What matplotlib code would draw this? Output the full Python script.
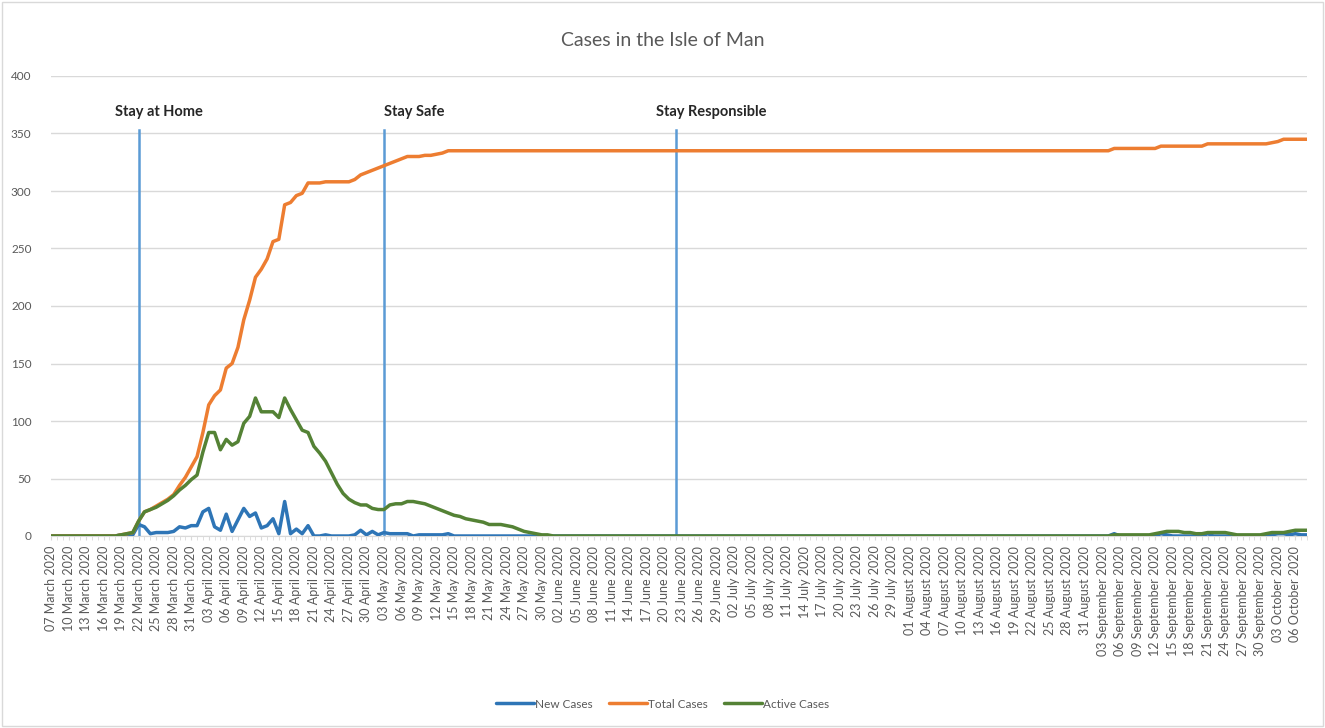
import matplotlib
matplotlib.use("Agg")
import matplotlib.pyplot as plt
import matplotlib.patches as mpatches
import numpy as np
import pandas as pd

plt.rcParams['font.family'] = ['Lato', 'DejaVu Sans']

# ---- data (daily, 07 March 2020 .. 08 October 2020) ----
dates = pd.date_range('2020-03-07', '2020-10-08', freq='D')

new_cases = [
    0, 0, 0, 0, 0, 0, 0, 0, 0, 0,          # 0-9
    0, 0, 1, 1, 1, 10, 8, 2, 3, 3,         # 10-19
    3, 4, 8, 7, 9, 9, 21, 24, 8, 5,        # 20-29
    19, 4, 14, 24, 17, 20, 7, 9, 15, 2,    # 30-39
    30, 2, 6, 2, 9, 0, 0, 1, 0, 0,         # 40-49
    0, 0, 1, 5, 1, 4, 1, 3, 2, 2,          # 50-59
    2, 2, 0, 1, 1, 1, 1, 1, 2, 0,          # 60-69
    0, 0, 0, 0, 0, 0, 0, 0, 0, 0,          # 70-79
    0, 0, 0, 0, 0, 0, 0, 0, 0, 0,          # 80-89
    0, 0, 0, 0, 0, 0, 0, 0, 0, 0,          # 90-99
    0, 0, 0, 0, 0, 0, 0, 0, 0, 0,          # 100-109
    0, 0, 0, 0, 0, 0, 0, 0, 0, 0,          # 110-119
    0, 0, 0, 0, 0, 0, 0, 0, 0, 0,          # 120-129
    0, 0, 0, 0, 0, 0, 0, 0, 0, 0,          # 130-139
    0, 0, 0, 0, 0, 0, 0, 0, 0, 0,          # 140-149
    0, 0, 0, 0, 0, 0, 0, 0, 0, 0,          # 150-159
    0, 0, 0, 0, 0, 0, 0, 0, 0, 0,          # 160-169
    0, 0, 0, 0, 0, 0, 0, 0, 0, 0,          # 170-179
    0, 0, 2, 0, 0, 0, 0, 0, 0, 0,          # 180-189
    2, 1, 0, 0, 0, 0, 0, 0, 2, 0,          # 190-199
    0, 0, 0, 0, 0, 0, 0, 0, 0, 1,          # 200-209
    2, 2, 1, 2, 1, 1,                      # 210-215
]

total_cases = [
    0, 0, 0, 0, 0, 0, 0, 0, 0, 0,                      # 0-9
    0, 0, 1, 2, 3, 13, 21, 23, 26, 29,                 # 10-19
    32, 36, 44, 51, 60, 69, 90, 114, 122, 127,         # 20-29
    146, 150, 164, 188, 205, 225, 232, 241, 256, 258,  # 30-39
    288, 290, 296, 298, 307, 307, 307, 308, 308, 308,  # 40-49
    308, 308, 310, 314, 316, 318, 320, 322, 324, 326,  # 50-59
    328, 330, 330, 330, 331, 331, 332, 333, 335, 335,  # 60-69
    335, 335, 335, 335, 335, 335, 335, 335, 335, 335,  # 70-79
    335, 335, 335, 335, 335, 335, 335, 335, 335, 335,  # 80-89
    335, 335, 335, 335, 335, 335, 335, 335, 335, 335,  # 90-99
    335, 335, 335, 335, 335, 335, 335, 335, 335, 335,  # 100-109
    335, 335, 335, 335, 335, 335, 335, 335, 335, 335,  # 110-119
    335, 335, 335, 335, 335, 335, 335, 335, 335, 335,  # 120-129
    335, 335, 335, 335, 335, 335, 335, 335, 335, 335,  # 130-139
    335, 335, 335, 335, 335, 335, 335, 335, 335, 335,  # 140-149
    335, 335, 335, 335, 335, 335, 335, 335, 335, 335,  # 150-159
    335, 335, 335, 335, 335, 335, 335, 335, 335, 335,  # 160-169
    335, 335, 335, 335, 335, 335, 335, 335, 335, 335,  # 170-179
    335, 335, 337, 337, 337, 337, 337, 337, 337, 337,  # 180-189
    339, 339, 339, 339, 339, 339, 339, 339, 341, 341,  # 190-199
    341, 341, 341, 341, 341, 341, 341, 341, 341, 342,  # 200-209
    343, 345, 345, 345, 345, 345,                      # 210-215
]

active_cases = [
    0, 0, 0, 0, 0, 0, 0, 0, 0, 0,                # 0-9
    0, 0, 1, 2, 3, 13, 21, 23, 25, 28,           # 10-19
    31, 35, 40, 44, 49, 53, 73, 90, 90, 75,      # 20-29
    84, 79, 82, 98, 104, 120, 108, 108, 108, 103,  # 30-39
    120, 110, 101, 92, 90, 78, 72, 65, 55, 45,   # 40-49
    37, 32, 29, 27, 27, 24, 23, 23, 27, 28,      # 50-59
    28, 30, 30, 29, 28, 26, 24, 22, 20, 18,      # 60-69
    17, 15, 14, 13, 12, 10, 10, 10, 9, 8,        # 70-79
    6, 4, 3, 2, 1, 1, 0, 0, 0, 0,                # 80-89
    0, 0, 0, 0, 0, 0, 0, 0, 0, 0,                # 90-99
    0, 0, 0, 0, 0, 0, 0, 0, 0, 0,                # 100-109
    0, 0, 0, 0, 0, 0, 0, 0, 0, 0,                # 110-119
    0, 0, 0, 0, 0, 0, 0, 0, 0, 0,                # 120-129
    0, 0, 0, 0, 0, 0, 0, 0, 0, 0,                # 130-139
    0, 0, 0, 0, 0, 0, 0, 0, 0, 0,                # 140-149
    0, 0, 0, 0, 0, 0, 0, 0, 0, 0,                # 150-159
    0, 0, 0, 0, 0, 0, 0, 0, 0, 0,                # 160-169
    0, 0, 0, 0, 0, 0, 0, 0, 0, 0,                # 170-179
    0, 0, 1, 1, 1, 1, 1, 1, 1, 2,                # 180-189
    3, 4, 4, 4, 3, 3, 2, 2, 3, 3,                # 190-199
    3, 3, 2, 1, 1, 1, 1, 1, 2, 3,                # 200-209
    3, 3, 4, 5, 5, 5,                            # 210-215
]

phase_labels = ['Stay at Home', 'Stay Safe', 'Stay Responsible']
phase_days = [15, 57, 107]          # index of date where each phase line sits

series_names = ['New Cases', 'Total Cases', 'Active Cases']
series_colors = ['#2E75B6', '#ED7D31', '#548235']

# ---- figure ----
W, H, DPI = 1325, 728, 100
fig = plt.figure(figsize=(W / DPI, H / DPI), dpi=DPI)
fig.patch.set_facecolor('white')

# faint chart border
fig.add_artist(mpatches.Rectangle((2 / W, 2 / H), (W - 4) / W, (H - 4) / H,
                                  transform=fig.transFigure, fill=False,
                                  edgecolor='#D9D9D9', lw=1))

left, right, top, bottom = 51, 1307, 76, 536
ax = fig.add_axes([left / W, 1 - bottom / H, (right - left) / W, (bottom - top) / H])

x = np.arange(len(dates))
for vals, name, col in zip([new_cases, total_cases, active_cases], series_names, series_colors):
    ax.plot(x, vals, color=col, lw=2.5, label=name, solid_joinstyle='round',
            solid_capstyle='round', zorder=3)

ax.set_xlim(0, len(dates) - 1)
ax.set_ylim(0, 400)
ax.set_yticks(np.arange(0, 401, 50))
ax.yaxis.grid(True, color='#D9D9D9', lw=1)
ax.set_axisbelow(True)
for s in ['top', 'right', 'left']:
    ax.spines[s].set_visible(False)
ax.spines['bottom'].set_color('#D9D9D9')
ax.tick_params(axis='y', length=0, labelsize=8.5, labelcolor='#595959', pad=14)

tick_idx = x[::3]
tick_labels = [d.strftime('%d %B %Y') for d in dates[::3]]
ax.set_xticks(tick_idx)
ax.set_xticklabels(tick_labels, rotation=90, fontsize=9, color='#595959')
ax.set_xticks(x, minor=True)
ax.tick_params(axis='x', which='both', length=3, color='#D9D9D9', pad=4)

# phase lines & labels
for lab, d in zip(phase_labels, phase_days):
    ax.plot([d, d], [0, 353], color='#5B9BD5', lw=1.8, zorder=2)
offsets = [-4, 0, -3.5]
for lab, d, off in zip(phase_labels, phase_days, offsets):
    ax.text(d + off, 369, lab, fontsize=10.5, fontweight='bold', color='#262626',
            ha='left', va='center')

fig.text(0.5, 1 - 40 / H, 'Cases in the Isle of Man', ha='center', va='center',
         fontsize=14, color='#595959')

leg = fig.legend(loc='center', bbox_to_anchor=(0.5, 1 - 704 / H), ncol=3, frameon=False,
                 fontsize=8.5, handlelength=3.2, handletextpad=0.1, columnspacing=1.4)
for t in leg.get_texts():
    t.set_color('#595959')

fig.savefig('out.png', dpi=DPI, facecolor='white')
